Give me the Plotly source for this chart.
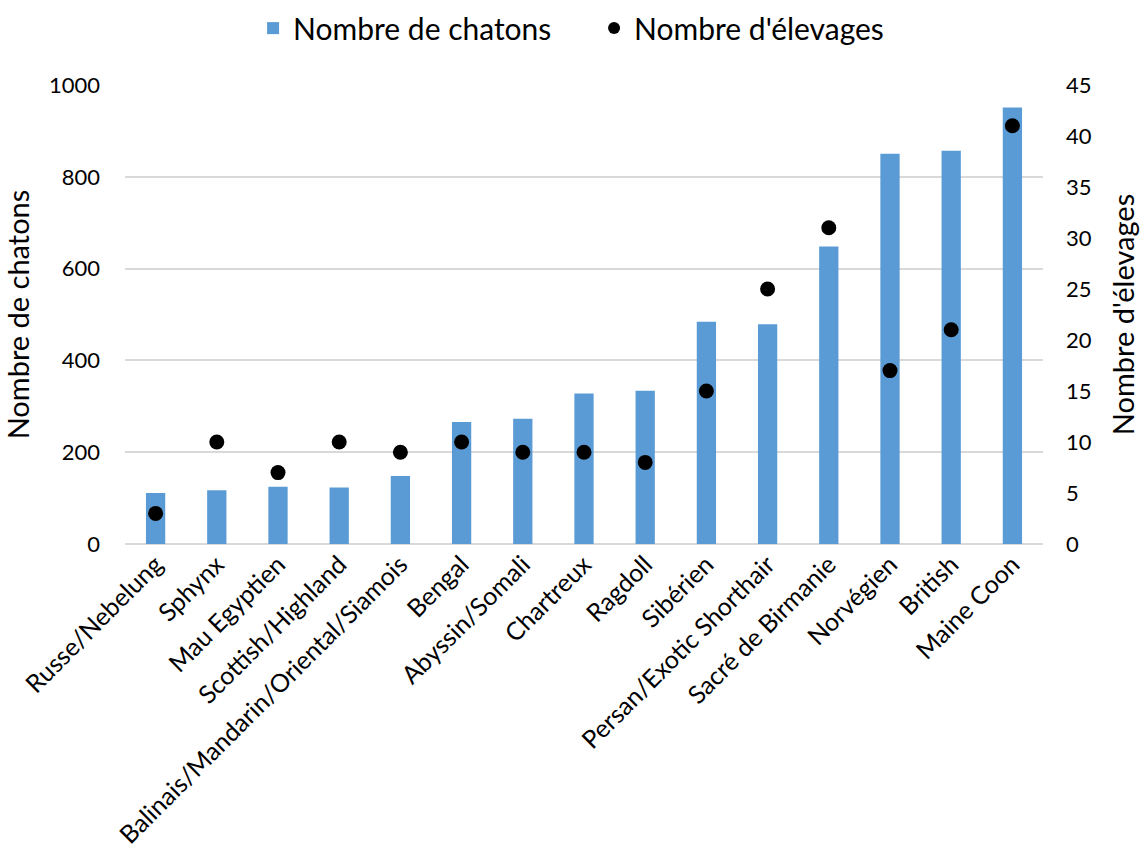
import plotly.graph_objects as go

# Races de chats, triées par nombre de chatons
races = [
    "Russe/Nebelung", "Sphynx", "Mau Egyptien", "Scottish/Highland",
    "Balinais/Mandarin/Oriental/Siamois", "Bengal", "Abyssin/Somali",
    "Chartreux", "Ragdoll", "Sibérien", "Persan/Exotic Shorthair",
    "Sacré de Birmanie", "Norvégien", "British", "Maine Coon",
]
chatons = [111, 117, 125, 123, 148, 266, 273, 328, 334, 484, 479, 648, 850, 857, 951]
elevages = [3, 10, 7, 10, 9, 10, 9, 9, 8, 15, 25, 31, 17, 21, 41]

left_ticks = [0, 200, 400, 600, 800, 1000]
right_ticks = [0, 5, 10, 15, 20, 25, 30, 35, 40, 45]

FONT = "Lato, 'Open Sans', sans-serif"
GRID = "#d9d9d9"

fig = go.Figure()
fig.add_trace(go.Bar(
    x=races, y=chatons, name="Nombre de chatons",
    marker=dict(color="#5b9bd5", line=dict(width=0)),
    yaxis="y",
))
fig.add_trace(go.Scatter(
    x=races, y=elevages, name="Nombre d'élevages",
    mode="markers", marker=dict(color="black", size=15),
    yaxis="y2",
))

fig.update_layout(
    width=1140, height=852,
    margin=dict(l=125, r=97, t=85, b=308, autoexpand=False),
    paper_bgcolor="white", plot_bgcolor="white",
    font=dict(family=FONT, color="black", size=20),
    bargap=0.685,
    showlegend=True,
    legend=dict(
        orientation="h", xref="container", x=0.222, xanchor="left",
        yref="container", y=0.967, yanchor="middle",
        font=dict(size=30), itemsizing="constant", entrywidth=296,
        traceorder="normal",
    ),
    xaxis=dict(
        range=[-0.5, len(races) - 0.5],
        tickangle=-45, tickfont=dict(size=25), showgrid=False,
        showline=False, ticks="", automargin=False,
    ),
    yaxis=dict(
        range=[0, 1000], tickvals=left_ticks, tickfont=dict(size=22),
        showgrid=True, gridcolor=GRID, gridwidth=1.5,
        zeroline=True, zerolinecolor=GRID, zerolinewidth=1.5,
        showline=False, ticks="", ticklabelstandoff=24,
        title=dict(text="Nombre de chatons", font=dict(size=29), standoff=12),
        automargin=False,
    ),
    yaxis2=dict(
        range=[0, 45], tickvals=right_ticks, tickfont=dict(size=22),
        overlaying="y", side="right", showgrid=False, zeroline=False,
        showline=False, ticks="", ticklabelstandoff=22,
        title=dict(text="Nombre d'élevages", font=dict(size=29), standoff=24),
        automargin=False,
    ),
)

fig.write_html("out.html")
